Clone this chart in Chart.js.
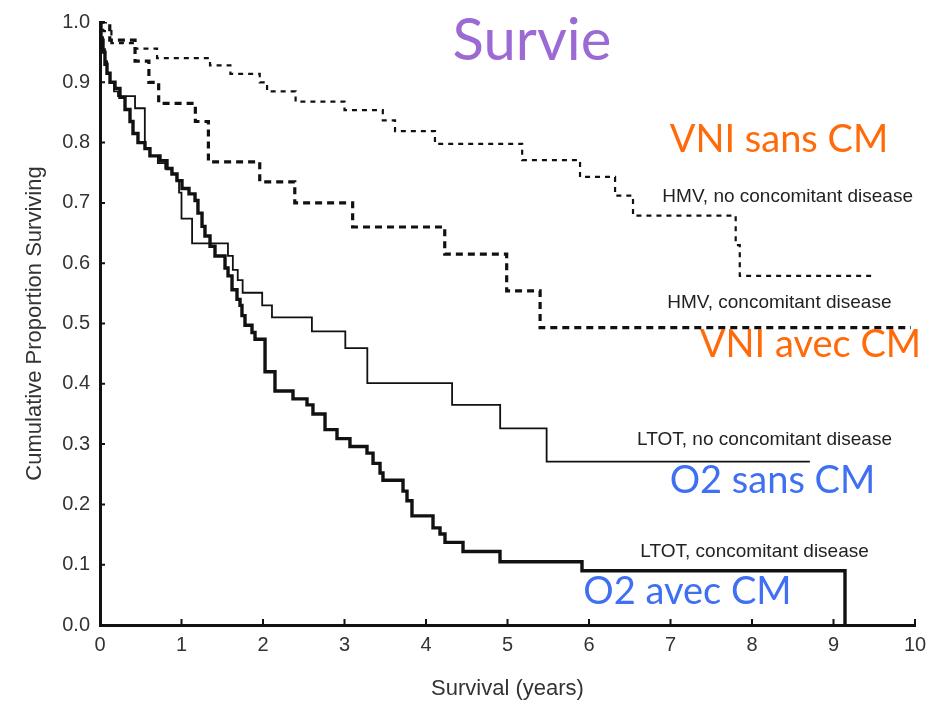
<!DOCTYPE html>
<html>
<head>
<meta charset="utf-8">
<title>Survie</title>
<script src="https://cdn.jsdelivr.net/npm/chart.js@4.4.1/dist/chart.umd.min.js"></script>
<style>
  html, body { margin: 0; padding: 0; background: #fff; }
</style>
</head>
<body>
<canvas id="survie" width="943" height="706"></canvas>
<script>
// Kaplan-Meier curves: each time is where the curve drops to the value at the same index
const hmvNoTimes = [0, 0.04, 0.14, 0.43, 0.7, 1.35, 1.6, 1.96, 2.05, 2.4, 3.0, 3.47, 3.62, 4.11, 5.18, 5.89, 6.32, 6.54, 7.8, 7.85, 9.5];
const hmvNoSurv  = [1.0, 0.985, 0.965, 0.956, 0.94, 0.928, 0.914, 0.9, 0.885, 0.868, 0.854, 0.837, 0.819, 0.798, 0.771, 0.743, 0.712, 0.679, 0.63, 0.579, 0.579];

const hmvCmTimes = [0, 0.12, 0.43, 0.6, 0.72, 1.17, 1.33, 1.96, 2.39, 3.1, 4.23, 4.99, 5.4, 9.95];
const hmvCmSurv  = [1.0, 0.97, 0.935, 0.9, 0.865, 0.835, 0.768, 0.735, 0.70, 0.66, 0.615, 0.554, 0.493, 0.493];

const ltotNoTimes = [0, 0.012, 0.037, 0.061, 0.086, 0.123, 0.172, 0.221, 0.43, 0.55, 0.61, 0.71, 0.80, 0.88, 0.94, 0.97, 1.0, 1.13,
  1.57, 1.63, 1.69, 1.75, 1.99, 2.11, 2.6, 3.01, 3.28, 4.32, 4.91, 5.48, 8.71];
const ltotNoSurv  = [1.0, 0.975, 0.955, 0.935, 0.915, 0.9, 0.885, 0.877, 0.857, 0.79, 0.778, 0.766, 0.757, 0.748, 0.737, 0.717, 0.674, 0.633,
  0.612, 0.589, 0.572, 0.551, 0.53, 0.51, 0.487, 0.459, 0.401, 0.365, 0.326, 0.271, 0.271];

const ltotCmTimes = [0, 0.012, 0.037, 0.061, 0.086, 0.123, 0.184, 0.245, 0.307, 0.368, 0.405, 0.466, 0.552, 0.613, 0.736, 0.822, 0.883, 0.945,
  1.006, 1.092, 1.166, 1.202, 1.252, 1.288, 1.35, 1.411, 1.534, 1.571, 1.62, 1.681, 1.718, 1.742, 1.779, 1.865, 1.902, 2.025, 2.147,
  2.368, 2.54, 2.613, 2.761, 2.908, 3.067, 3.276, 3.35, 3.436, 3.472, 3.718, 3.767, 3.828, 4.086, 4.172, 4.233, 4.454, 4.908, 5.914, 9.141];
const ltotCmSurv  = [1.0, 0.97, 0.95, 0.93, 0.915, 0.9, 0.89, 0.875, 0.855, 0.835, 0.815, 0.8, 0.79, 0.778, 0.77, 0.757, 0.748, 0.737,
  0.724, 0.715, 0.704, 0.683, 0.661, 0.645, 0.628, 0.612, 0.592, 0.579, 0.556, 0.54, 0.53, 0.513, 0.497, 0.485, 0.474, 0.42, 0.388,
  0.375, 0.365, 0.35, 0.324, 0.309, 0.296, 0.285, 0.268, 0.252, 0.24, 0.222, 0.206, 0.181, 0.161, 0.151, 0.137, 0.122, 0.105, 0.09, 0.0];

const xTicks = [0, 1, 2, 3, 4, 5, 6, 7, 8, 9, 10];
const yTicks = [0, 0.1, 0.2, 0.3, 0.4, 0.5, 0.6, 0.7, 0.8, 0.9, 1.0];

const curveLabels = ['HMV, no concomitant disease', 'HMV, concomitant disease', 'LTOT, no concomitant disease', 'LTOT, concomitant disease'];
const groupLabels = ['VNI sans CM', 'VNI avec CM', 'O2 sans CM', 'O2 avec CM'];

const toPoints = (ts, vs) => ts.map((t, i) => ({ x: t, y: vs[i] }));

// text placed in data units (years, proportion), left edge / baseline
const notes = [
  { text: 'Survie', x: 5.3, y: 0.9375, font: '58px Lato', color: '#9b6bd3', align: 'center' },
  { text: groupLabels[0], x: 6.99, y: 0.785, font: '38px Lato', color: '#ff6a0a' },
  { text: groupLabels[1], x: 7.36, y: 0.444, font: '38px Lato', color: '#ff6a0a' },
  { text: groupLabels[2], x: 6.99, y: 0.219, font: '38px Lato', color: '#3f6ff2' },
  { text: groupLabels[3], x: 5.93, y: 0.035, font: '38px Lato', color: '#3f6ff2' },
  { text: curveLabels[0], x: 6.9, y: 0.702, font: '19px "Liberation Sans"', color: '#222' },
  { text: curveLabels[1], x: 6.96, y: 0.525, font: '19px "Liberation Sans"', color: '#222' },
  { text: curveLabels[2], x: 6.59, y: 0.298, font: '19px "Liberation Sans"', color: '#222' },
  { text: curveLabels[3], x: 6.63, y: 0.113, font: '19px "Liberation Sans"', color: '#222' }
];

const notesPlugin = {
  id: 'notes',
  afterDatasetsDraw(chart) {
    const { ctx, scales: { x, y } } = chart;
    ctx.save();
    ctx.textBaseline = 'alphabetic';
    notes.forEach(n => {
      ctx.font = n.font;
      ctx.fillStyle = n.color;
      ctx.textAlign = n.align || 'left';
      ctx.fillText(n.text, x.getPixelForValue(n.x), y.getPixelForValue(n.y));
    });
    ctx.restore();
  }
};

// short tick marks pointing into the plot
const innerTicks = {
  id: 'innerTicks',
  afterDraw(chart) {
    const { ctx, chartArea, scales: { x, y } } = chart;
    ctx.save();
    ctx.strokeStyle = '#111';
    ctx.lineWidth = 2;
    ctx.beginPath();
    xTicks.forEach(v => {
      const px = x.getPixelForValue(v);
      ctx.moveTo(px, chartArea.bottom);
      ctx.lineTo(px, chartArea.bottom - 6);
    });
    yTicks.forEach(v => {
      const py = y.getPixelForValue(v);
      ctx.moveTo(chartArea.left, py);
      ctx.lineTo(chartArea.left + 5, py);
    });
    ctx.stroke();
    ctx.restore();
  }
};

const line = (label, ts, vs, width, dash) => ({
  label,
  data: toPoints(ts, vs),
  stepped: 'before',
  borderColor: '#111',
  borderWidth: width,
  borderDash: dash,
  pointRadius: 0,
  fill: false
});

new Chart(document.getElementById('survie'), {
  type: 'line',
  data: {
    datasets: [
      line(curveLabels[0], hmvNoTimes, hmvNoSurv, 2.2, [5, 5]),
      line(curveLabels[1], hmvCmTimes, hmvCmSurv, 3.2, [7, 5]),
      line(curveLabels[2], ltotNoTimes, ltotNoSurv, 1.8, []),
      line(curveLabels[3], ltotCmTimes, ltotCmSurv, 3.4, [])
    ]
  },
  options: {
    responsive: false,
    animation: false,
    layout: { padding: { top: 17, right: 28, left: 0, bottom: 0 } },
    plugins: {
      legend: { display: false },
      tooltip: { enabled: false }
    },
    scales: {
      x: {
        type: 'linear',
        min: 0,
        max: 10,
        afterFit: s => { s.height = 81; },
        afterBuildTicks: s => { s.ticks = xTicks.map(v => ({ value: v })); },
        grid: { display: false, drawTicks: false },
        border: { display: true, color: '#111', width: 3 },
        ticks: { color: '#333', padding: 8, font: { family: 'Liberation Sans', size: 20 } },
        title: {
          display: true,
          text: 'Survival (years)',
          color: '#333',
          font: { family: 'Liberation Sans', size: 22 },
          padding: { top: 0, bottom: 4 }
        }
      },
      y: {
        type: 'linear',
        min: 0,
        max: 1,
        afterFit: s => { s.width = 100; },
        afterBuildTicks: s => { s.ticks = yTicks.map(v => ({ value: v })); },
        grid: { display: false, drawTicks: false },
        border: { display: true, color: '#111', width: 3 },
        ticks: {
          color: '#333',
          padding: 10,
          font: { family: 'Liberation Sans', size: 20 },
          callback: v => Number(v).toFixed(1)
        },
        title: {
          display: true,
          text: 'Cumulative Proportion Surviving',
          color: '#333',
          font: { family: 'Liberation Sans', size: 22 },
          padding: { top: 22, bottom: 0 }
        }
      }
    }
  },
  plugins: [notesPlugin, innerTicks]
});
</script>
</body>
</html>
